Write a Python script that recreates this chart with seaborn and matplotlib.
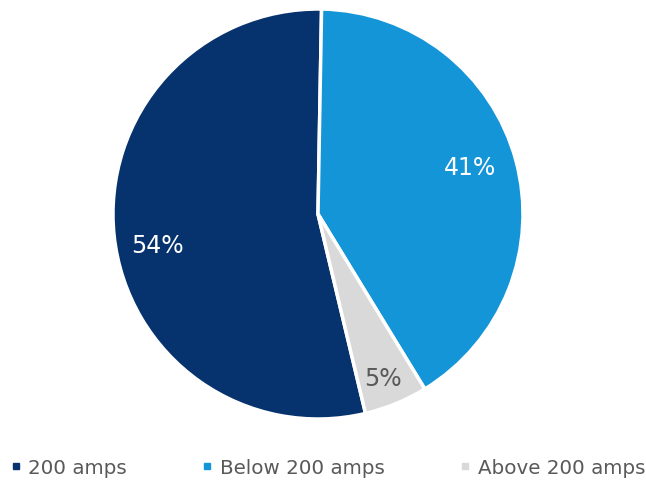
import matplotlib
matplotlib.use("Agg")
import matplotlib.pyplot as plt
from matplotlib.lines import Line2D
import seaborn as sns

categories = ["200 amps", "Below 200 amps", "Above 200 amps"]
shares = [54, 41, 5]
slice_colors = ["#06336E", "#1495D8", "#D9D9D9"]
label_colors = ["white", "white", "#595959"]

sns.set_theme(style="white")
plt.rcParams["font.family"] = ["DejaVu Sans"]

fig = plt.figure(figsize=(6.46, 4.81), dpi=100)
ax = fig.add_axes([0.1749, 0.1268, 0.6347, 0.8524])

wedges, texts = ax.pie(
    shares,
    colors=slice_colors,
    startangle=90 - 0.46 * 360 - 1.0,
    counterclock=False,
    radius=1.0,
    wedgeprops=dict(edgecolor="white", linewidth=2.5),
)

# percentage labels placed inside each slice
label_pos = [(-0.785, -0.15), (0.74, 0.23), (0.315, -0.80)]
for (x, y), v, c in zip(label_pos, shares, label_colors):
    ax.text(x, y, f"{v}%", ha="center", va="center", color=c, fontsize=17)

ax.set_xlim(-1, 1)
ax.set_ylim(-1, 1)
ax.set_aspect("equal")
ax.axis("off")

handles = [
    Line2D([0], [0], marker="s", linestyle="", markersize=4.5,
           markerfacecolor=c, markeredgecolor=c)
    for c in slice_colors
]
fig.legend(handles, categories, loc="center", bbox_to_anchor=(0.5085, 0.027),
           ncol=3, frameon=False, fontsize=14.3, handletextpad=0.43,
           columnspacing=3.85, handlelength=0.4, labelcolor="#595959")

fig.savefig("out.png", dpi=100)
